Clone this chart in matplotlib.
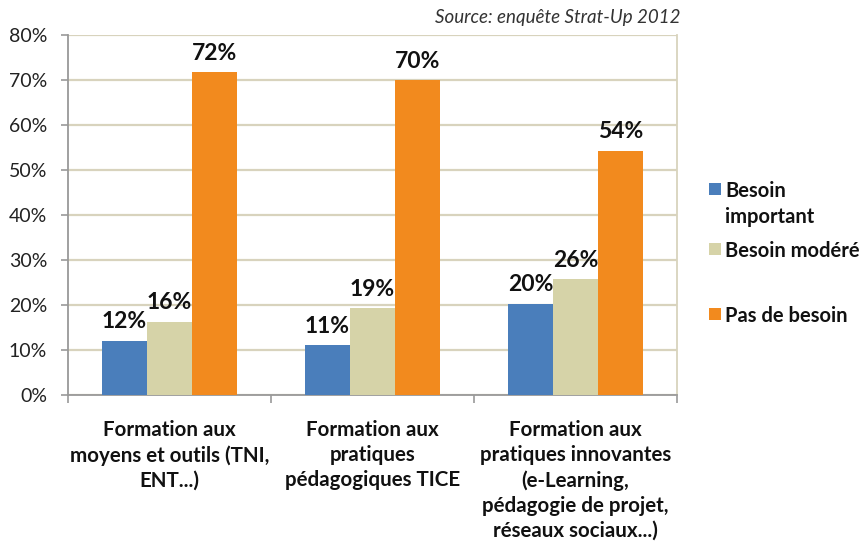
import numpy as np
import matplotlib
matplotlib.use("Agg")
import matplotlib.pyplot as plt
from matplotlib.patches import Rectangle
from matplotlib.ticker import FuncFormatter

plt.rcParams['font.family'] = ['Lato', 'DejaVu Sans']

categories = [
    "Formation aux\nmoyens et outils (TNI,\nENT...)",
    "Formation aux\npratiques\npédagogiques TICE",
    "Formation aux\npratiques innovantes\n(e-Learning,\npédagogie de projet,\nréseaux sociaux...)",
]
series_names = [["Besoin", "important"], ["Besoin modéré"], ["Pas de besoin"]]
besoin_important = [12.1, 11.0, 20.3]
besoin_modere = [16.3, 19.3, 25.7]
pas_de_besoin = [71.7, 70.0, 54.3]
colors = ["#4a7ebb", "#d6d3a8", "#f28a1e"]

W, H = 863, 544
fig = plt.figure(figsize=(W / 100, H / 100), dpi=100)
ax = fig.add_axes([0.0788, 0.2739, 0.7057, 0.6618])

x = np.arange(len(categories))
w = 0.222
grid_col = "#d8d3bd"
for i, (vals, col) in enumerate(zip([besoin_important, besoin_modere, pas_de_besoin], colors)):
    pos = x + (i - 1) * w
    bars = ax.bar(pos, vals, width=w, color=col, zorder=3)
    for b, v in zip(bars, vals):
        ax.text(b.get_x() + b.get_width() / 2, v + 2.7, f"{round(v)}%",
                ha="center", va="baseline", fontsize=16.5, fontweight="bold", color="#111111")

ax.set_xlim(-0.5, 2.5)
ax.set_ylim(0, 80)
ax.set_yticks(range(0, 81, 10))
ax.yaxis.set_major_formatter(FuncFormatter(lambda v, p: f"{int(v)}%"))
ax.grid(axis="y", color=grid_col, linewidth=1.6, zorder=0)
ax.tick_params(axis="y", length=5, width=1.2, color="#999999", labelsize=14, pad=10, labelcolor="#222222")

ax.set_xticks(x)
ax.set_xticklabels(categories, fontsize=14.8, fontweight="bold", linespacing=1.31, color="#111111")
ax.tick_params(axis="x", length=0, pad=18)
ax.set_xticks([-0.5, 0.5, 1.5, 2.5], minor=True)
ax.tick_params(axis="x", which="minor", length=6, width=1.2, color="#999999")

ax.spines["top"].set_visible(False)
for s in ["left", "bottom"]:
    ax.spines[s].set_color("#999999")
    ax.spines[s].set_linewidth(1.3)
ax.spines["right"].set_color(grid_col)
ax.spines["right"].set_linewidth(1.3)

# legend, laid out like the Excel one (square aligned with first line)
leg_y = [183, 243, 308]   # top of each square, px from top
sq = 12
for col, lines, yt in zip(colors, series_names, leg_y):
    fig.add_artist(Rectangle((709 / W, 1 - (yt + sq) / H), sq / W, sq / H,
                             facecolor=col, edgecolor="none", transform=fig.transFigure))
    for k, line in enumerate(lines):
        fig.text(725 / W, 1 - (yt + 14 + k * 26) / H, line, ha="left", va="baseline",
                 fontsize=14.5, fontweight="bold", color="#111111")

fig.text(0.788, 0.967, "Source: enquête Strat-Up 2012", ha="right", va="center",
         fontsize=13.5, style="italic", color="#333333")

fig.savefig("out.png", dpi=100)
